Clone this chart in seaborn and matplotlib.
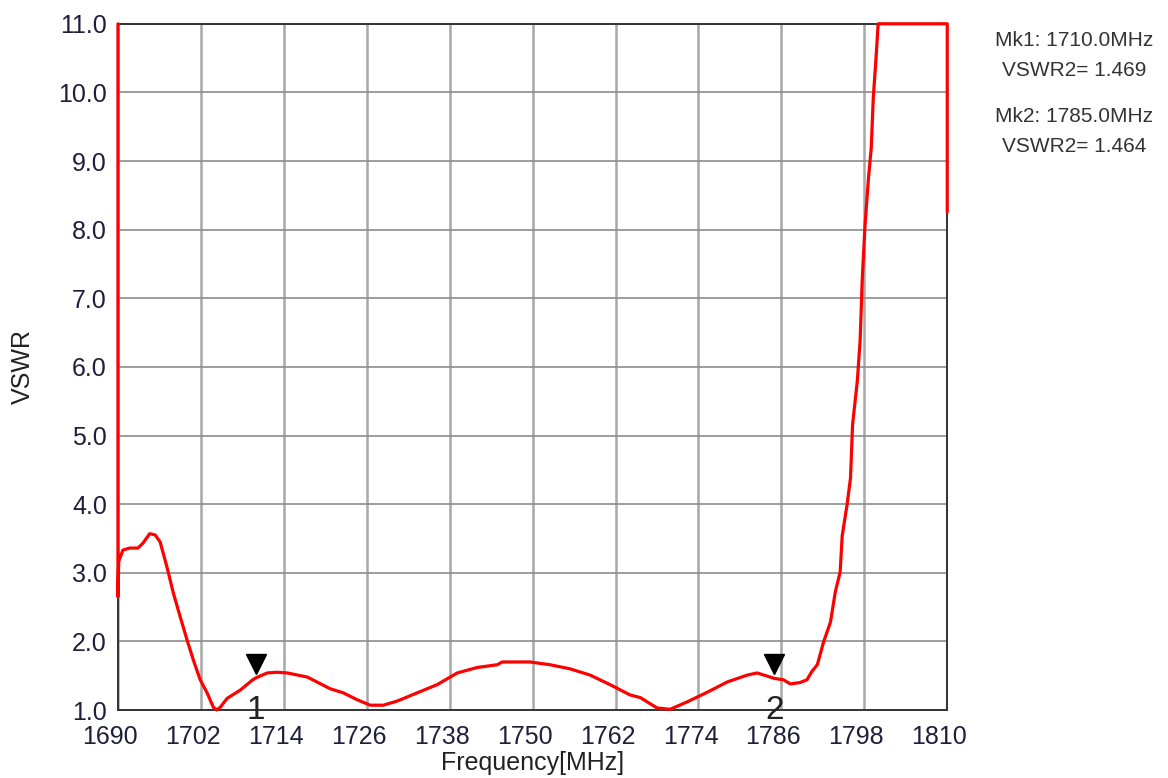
import matplotlib
matplotlib.use("Agg")
import matplotlib.pyplot as plt
import matplotlib.transforms as mtransforms
import numpy as np
import pandas as pd
import seaborn as sns

# Trace (values above 11 are clipped at the top)
freq_mhz = [1690.0, 1690.0, 1690.1, 1690.7, 1691.7, 1692.9, 1693.6, 1694.6, 1695.4,
            1696.1, 1697.1, 1698.0, 1699.0, 1700.0, 1700.9, 1701.9, 1702.9, 1703.8,
            1704.3, 1704.8, 1705.8, 1707.7, 1709.5, 1710.0, 1711.6, 1713.0, 1714.5,
            1717.4, 1720.7, 1722.6, 1724.6, 1726.5, 1728.4, 1730.4, 1733.3, 1736.2,
            1739.1, 1742.0, 1744.9, 1745.6, 1749.6, 1752.5, 1755.4, 1758.3, 1761.2,
            1764.1, 1765.6, 1768.0, 1769.9, 1772.4, 1775.3, 1778.2, 1781.1, 1782.5,
            1785.0, 1786.3, 1787.3, 1788.7, 1789.7, 1790.4, 1791.2, 1792.1, 1793.1,
            1793.8, 1794.5, 1794.8, 1795.5, 1796.0, 1796.3, 1797.0, 1797.4, 1797.7,
            1798.1, 1798.6, 1799.0, 1799.3, 1799.7, 1800.0, 1810.0, 1810.0]
vswr = [11.0, 2.65, 3.16, 3.33, 3.36, 3.36, 3.43, 3.57, 3.55,
        3.45, 3.08, 2.71, 2.36, 2.02, 1.73, 1.44, 1.25, 1.04,
        1.00, 1.04, 1.17, 1.29, 1.44, 1.47, 1.54, 1.55, 1.54,
        1.48, 1.31, 1.25, 1.15, 1.07, 1.07, 1.13, 1.25, 1.37,
        1.54, 1.62, 1.66, 1.70, 1.70, 1.66, 1.60, 1.51, 1.37,
        1.22, 1.18, 1.03, 1.01, 1.12, 1.26, 1.41, 1.51, 1.54,
        1.46, 1.44, 1.38, 1.40, 1.44, 1.56, 1.66, 1.99, 2.28,
        2.72, 3.01, 3.54, 3.99, 4.38, 5.16, 5.81, 6.40, 7.28,
        8.06, 8.75, 9.19, 9.93, 10.51, 11.0, 11.0, 8.26]

# Markers
marker_names = ["1", "2"]
marker_freq = [1710.0, 1785.0]
marker_vswr = [1.469, 1.464]

x_ticks = list(range(1690, 1811, 12))
y_ticks = list(range(1, 12))

df = pd.DataFrame({"freq": freq_mhz, "vswr": vswr})

sns.set_theme(style="white")
plt.rcParams["font.family"] = ["Liberation Sans", "DejaVu Sans"]

fig = plt.figure(figsize=(11.68, 7.78), dpi=100)
ax = fig.add_axes([0.101, 0.0874, 0.710, 0.882])

sns.lineplot(data=df, x="freq", y="vswr", sort=False, estimator=None,
             color="#ff0000", linewidth=2.3, ax=ax, zorder=5, clip_on=False)

ax.set_xlim(1690, 1810)
ax.set_ylim(1, 11)
ax.set_xticks(x_ticks)
ax.set_yticks(y_ticks)
ax.set_yticklabels([f"{v:.1f}" for v in y_ticks])
ax.grid(True, axis="x", color="#a8a8a8", linewidth=1.8)
ax.grid(True, axis="y", color="#8c8c8c", linewidth=1.2)
for s in ax.spines.values():
    s.set_color("#333333")
    s.set_linewidth(1.4)

ax.tick_params(axis="both", length=0, labelsize=18, labelcolor="#1f1f3d")
ax.tick_params(axis="x", pad=11)
ax.tick_params(axis="y", pad=8)
shift = mtransforms.ScaledTranslation(-8 / 100, 0, fig.dpi_scale_trans)
for lab in ax.get_xticklabels():
    lab.set_transform(lab.get_transform() + shift)

ax.set_xlabel("Frequency[MHz]", fontsize=18, color="#222222", labelpad=1)
ax.set_ylabel("VSWR", fontsize=18, color="#222222", labelpad=17)

# marker triangles just above the trace, numbers below
tri = mtransforms.offset_copy(ax.transData, fig=fig, y=10, units="points")
for name, f, v in zip(marker_names, marker_freq, marker_vswr):
    ax.plot(f, v, marker="v", markersize=14, color="black", transform=tri,
            zorder=6, clip_on=False)
    ax.text(f, 1.0, name, fontsize=24, color="#222222", ha="center", va="center",
            zorder=6)

# marker readout
readout = []
for i, (f, v) in enumerate(zip(marker_freq, marker_vswr)):
    readout.append((f"Mk{i + 1}: {f:.1f}MHz", f"VSWR2= {v:.3f}"))
for i, (l1, l2) in enumerate(readout):
    y0 = 1 - (40 + i * 77) / 778
    fig.text(1074 / 1168, y0, l1, fontsize=15, color="#333333", ha="center", va="center")
    fig.text(1074 / 1168, y0 - 30 / 778, l2, fontsize=15, color="#333333",
             ha="center", va="center")

fig.savefig("out.png", dpi=100)
